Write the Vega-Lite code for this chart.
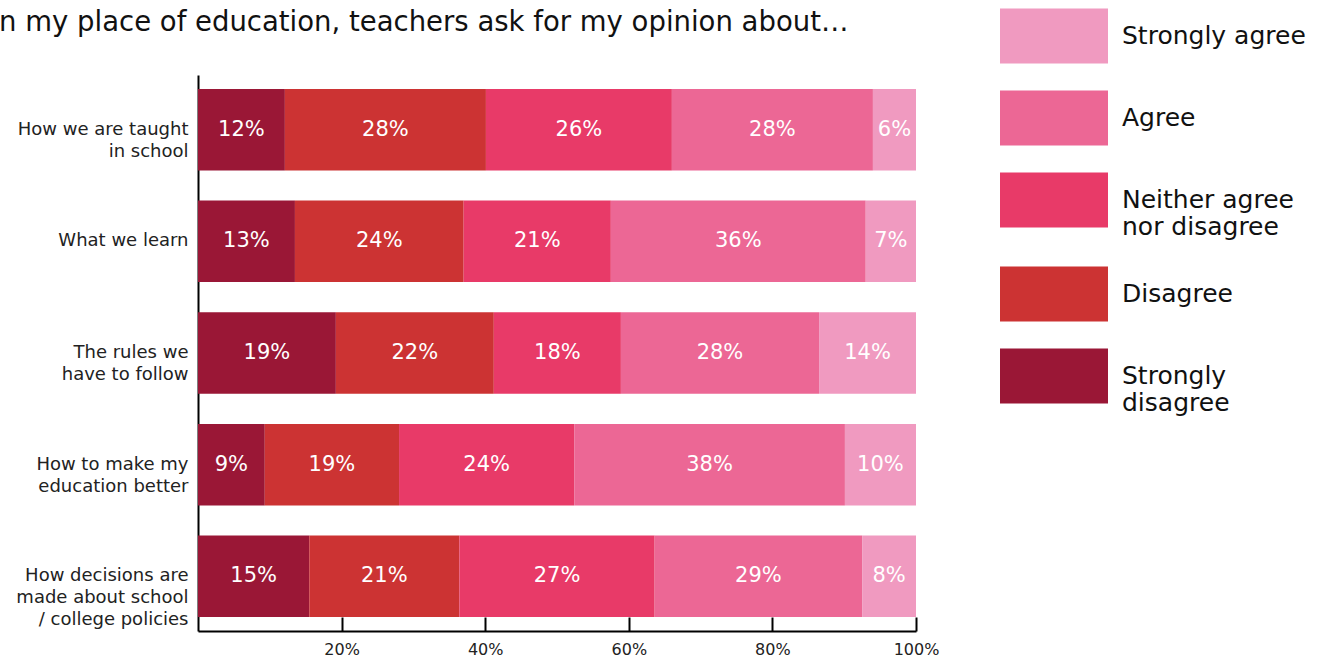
{
  "$schema": "https://vega.github.io/schema/vega-lite/v6.json",
  "width": 718,
  "height": 556,
  "autosize": "none",
  "padding": {"left": 198, "top": 75, "right": 410, "bottom": 29},
  "background": "white",
  "config": {"font": "DejaVu Sans", "view": {"stroke": null}},
  "title": {
    "text": "In my place of education, teachers ask for my opinion about…",
    "anchor": "start",
    "frame": "group",
    "dx": -207,
    "dy": 76,
    "offset": 0,
    "baseline": "alphabetic",
    "fontSize": 27.5,
    "fontWeight": "normal",
    "color": "#111111"
  },
  "data": {
    "values": [
      {"q": "How we are taught|in school", "cat": "Strongly disagree", "k": 1, "value": 12.1, "label": "12%"},
      {"q": "How we are taught|in school", "cat": "Disagree", "k": 2, "value": 28.0, "label": "28%"},
      {"q": "How we are taught|in school", "cat": "Neither agree nor disagree", "k": 3, "value": 25.9, "label": "26%"},
      {"q": "How we are taught|in school", "cat": "Agree", "k": 4, "value": 28.0, "label": "28%"},
      {"q": "How we are taught|in school", "cat": "Strongly agree", "k": 5, "value": 6.0, "label": "6%"},
      {"q": "What we learn", "cat": "Strongly disagree", "k": 1, "value": 13.5, "label": "13%"},
      {"q": "What we learn", "cat": "Disagree", "k": 2, "value": 23.5, "label": "24%"},
      {"q": "What we learn", "cat": "Neither agree nor disagree", "k": 3, "value": 20.5, "label": "21%"},
      {"q": "What we learn", "cat": "Agree", "k": 4, "value": 35.5, "label": "36%"},
      {"q": "What we learn", "cat": "Strongly agree", "k": 5, "value": 7.0, "label": "7%"},
      {"q": "The rules we|have to follow", "cat": "Strongly disagree", "k": 1, "value": 19.2, "label": "19%"},
      {"q": "The rules we|have to follow", "cat": "Disagree", "k": 2, "value": 22.0, "label": "22%"},
      {"q": "The rules we|have to follow", "cat": "Neither agree nor disagree", "k": 3, "value": 17.7, "label": "18%"},
      {"q": "The rules we|have to follow", "cat": "Agree", "k": 4, "value": 27.6, "label": "28%"},
      {"q": "The rules we|have to follow", "cat": "Strongly agree", "k": 5, "value": 13.5, "label": "14%"},
      {"q": "How to make my|education better", "cat": "Strongly disagree", "k": 1, "value": 9.3, "label": "9%"},
      {"q": "How to make my|education better", "cat": "Disagree", "k": 2, "value": 18.7, "label": "19%"},
      {"q": "How to make my|education better", "cat": "Neither agree nor disagree", "k": 3, "value": 24.4, "label": "24%"},
      {"q": "How to make my|education better", "cat": "Agree", "k": 4, "value": 37.7, "label": "38%"},
      {"q": "How to make my|education better", "cat": "Strongly agree", "k": 5, "value": 9.9, "label": "10%"},
      {"q": "How decisions are|made about school|/ college policies", "cat": "Strongly disagree", "k": 1, "value": 15.5, "label": "15%"},
      {"q": "How decisions are|made about school|/ college policies", "cat": "Disagree", "k": 2, "value": 20.9, "label": "21%"},
      {"q": "How decisions are|made about school|/ college policies", "cat": "Neither agree nor disagree", "k": 3, "value": 27.2, "label": "27%"},
      {"q": "How decisions are|made about school|/ college policies", "cat": "Agree", "k": 4, "value": 28.9, "label": "29%"},
      {"q": "How decisions are|made about school|/ college policies", "cat": "Strongly agree", "k": 5, "value": 7.5, "label": "8%"}
    ]
  },
  "transform": [
    {"stack": "value", "groupby": ["q"], "sort": [{"field": "k"}], "offset": "zero", "as": ["v0", "v1"]}
  ],
  "encoding": {
    "y": {
      "field": "q",
      "type": "nominal",
      "sort": null,
      "scale": {"paddingInner": 0.27, "paddingOuter": 0.125},
      "axis": {
        "title": null,
        "labelExpr": "split(datum.label, '|')",
        "ticks": false,
        "domain": true,
        "domainColor": "#000000",
        "domainWidth": 2,
        "labelFontSize": 18,
        "labelLineHeight": 22,
        "labelPadding": 10,
        "labelColor": "#222222",
        "labelAlign": "right",
        "labelBaseline": "middle"
      }
    }
  },
  "layer": [
    {
      "mark": {"type": "bar"},
      "encoding": {
        "x": {
          "field": "v0",
          "type": "quantitative",
          "scale": {"domain": [0, 100]},
          "axis": {
            "title": null,
            "values": [20, 40, 60, 80, 100],
            "labelExpr": "datum.value + '%'",
            "labelFlush": false,
            "grid": false,
            "domain": true,
            "domainColor": "#000000",
            "domainWidth": 2,
            "ticks": true,
            "tickColor": "#000000",
            "tickWidth": 2,
            "tickSize": -14,
            "labelPadding": 24,
            "labelFontSize": 16,
            "labelColor": "#222222"
          }
        },
        "x2": {"field": "v1"},
        "color": {
          "field": "cat",
          "type": "nominal",
          "scale": {
            "domain": ["Strongly agree", "Agree", "Neither agree nor disagree", "Disagree", "Strongly disagree"],
            "range": ["#F09AC0", "#EC6795", "#E83A68", "#CC3333", "#9A1736"]
          },
          "legend": {
            "title": null,
            "orient": "none",
            "legendX": 802,
            "legendY": -93,
            "symbolType": "M-1,-0.51H1V0.51H-1Z",
            "symbolSize": 11664,
            "symbolStrokeWidth": 0,
            "symbolOpacity": 1,
            "labelFontSize": 25,
            "labelColor": "#111111",
            "labelOffset": 14,
            "labelLimit": 400,
            "rowPadding": -26,
            "labelExpr": "datum.label == 'Neither agree nor disagree' ? ['Neither agree', 'nor disagree'] : datum.label == 'Strongly disagree' ? ['Strongly', 'disagree'] : datum.label"
          }
        }
      }
    },
    {
      "transform": [
        {"fold": ["v0", "v1"], "as": ["edge", "pos"]},
        {"aggregate": [{"op": "mean", "field": "pos", "as": "mid"}], "groupby": ["q", "cat", "label"]}
      ],
      "mark": {"type": "text", "color": "white", "fontSize": 21, "align": "center", "baseline": "middle"},
      "encoding": {
        "x": {"field": "mid", "type": "quantitative"},
        "text": {"field": "label"}
      }
    }
  ]
}
